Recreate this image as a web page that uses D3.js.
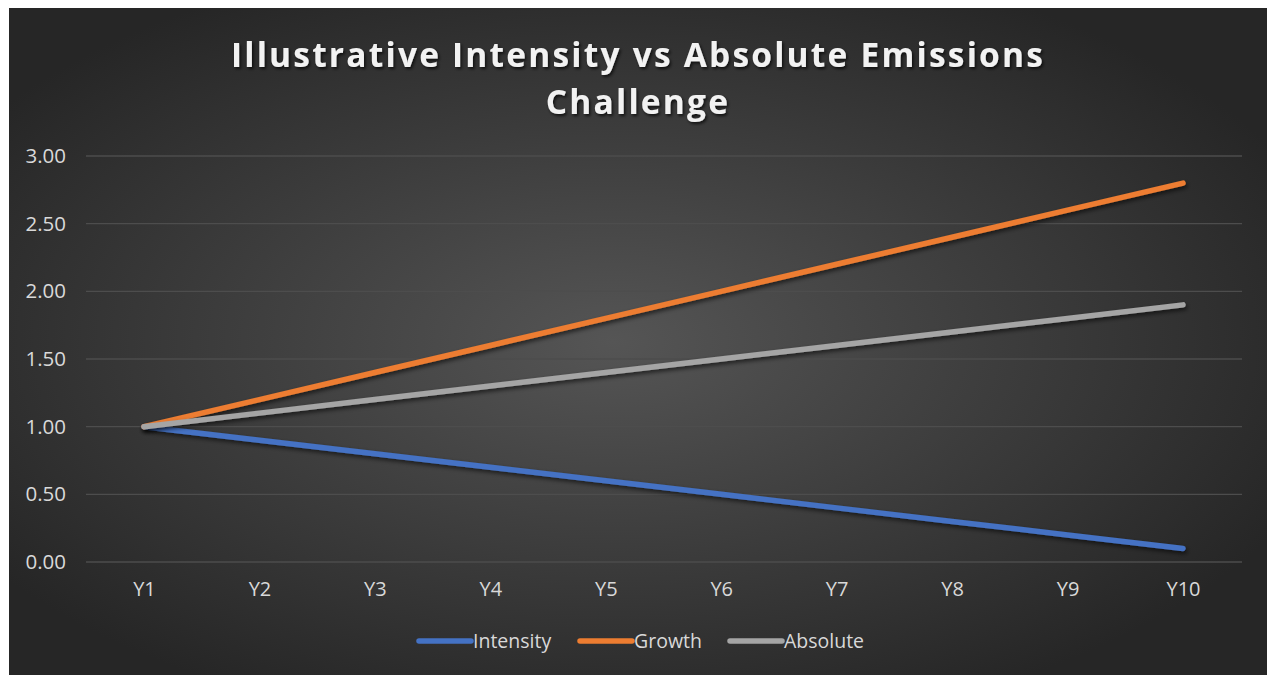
<!DOCTYPE html>
<html><head><meta charset="utf-8">
<script src="https://cdn.jsdelivr.net/npm/d3@7"></script>
<style>html,body{margin:0;padding:0;background:#fff;}svg{display:block;}</style>
</head><body>
<svg id="c" width="1267" height="675"></svg>
<script>
const categories = ["Y1","Y2","Y3","Y4","Y5","Y6","Y7","Y8","Y9","Y10"];
const intensity = [1.0,0.9,0.8,0.7,0.6,0.5,0.4,0.3,0.2,0.1];
const growth = [1.0,1.2,1.4,1.6,1.8,2.0,2.2,2.4,2.6,2.8];
const absolute = [1.0,1.1,1.2,1.3,1.4,1.5,1.6,1.7,1.8,1.9];
const yTicks = [0,0.5,1,1.5,2,2.5,3];
const seriesNames = ["Intensity","Growth","Absolute"];
const title = ["Illustrative Intensity vs Absolute Emissions","Challenge"];

const colors = ["#4472C4","#ED7D31","#A5A5A5"];
const series = [intensity, growth, absolute];
const svg = d3.select("#c");
const defs = svg.append("defs");
const rg = defs.append("radialGradient").attr("id","bg").attr("cx","48%").attr("cy","50%").attr("r","60%");
rg.append("stop").attr("offset","0%").attr("stop-color","#555555");
rg.append("stop").attr("offset","100%").attr("stop-color","#262626");
const f = defs.append("filter").attr("id","sh").attr("x","-10%").attr("y","-10%").attr("width","120%").attr("height","130%");
f.append("feDropShadow").attr("dx",1.5).attr("dy",2.5).attr("stdDeviation",2).attr("flood-color","#000").attr("flood-opacity",0.6);
const ft = defs.append("filter").attr("id","tsh").attr("x","-10%").attr("y","-20%").attr("width","120%").attr("height","150%");
ft.append("feDropShadow").attr("dx",1.5).attr("dy",2).attr("stdDeviation",1.5).attr("flood-color","#000").attr("flood-opacity",0.7);

svg.append("rect").attr("x",9).attr("y",8).attr("width",1258).attr("height",667).attr("fill","url(#bg)");

const x = d3.scalePoint().domain(categories).range([144,1183]);
const y = d3.scaleLinear().domain([0,3]).range([562,156]);

const font = "'Open Sans','Noto Sans',sans-serif";
// gridlines
svg.append("g").selectAll("line").data(yTicks).join("line")
  .attr("x1",86).attr("x2",1242).attr("y1",d=>y(d)).attr("y2",d=>y(d))
  .attr("stroke","#4d4d4d").attr("stroke-width",1.3);

// y axis
const ya = svg.append("g").attr("transform","translate(66,0)")
  .call(d3.axisLeft(y).tickValues(yTicks).tickFormat(d3.format(".2f")).tickSize(0).tickPadding(0));
ya.select(".domain").remove();
ya.selectAll("text").attr("fill","#d9d9d9").style("font-family",font).style("font-size","20.5px");

// x axis
const xa = svg.append("g").attr("transform","translate(0,582)")
  .call(d3.axisBottom(x).tickSize(0).tickPadding(0));
xa.select(".domain").remove();
xa.selectAll("text").attr("fill","#d9d9d9").style("font-family",font).style("font-size","20px");

// lines
const line = d3.line().x((d,i)=>x(categories[i])).y(d=>y(d));
svg.append("g").selectAll("path").data(series).join("path")
  .attr("d",line).attr("fill","none").attr("stroke",(d,i)=>colors[i])
  .attr("stroke-width",5.5).attr("stroke-linecap","round").attr("stroke-linejoin","round")
  .attr("filter","url(#sh)");

// title
svg.append("g").selectAll("text").data(title).join("text")
  .attr("x",638).attr("y",(d,i)=>67+i*47).attr("text-anchor","middle")
  .attr("fill","#f2f2f2").style("font-family",font).style("font-size","33.5px").style("font-weight","bold")
  .style("letter-spacing","2.2px").attr("filter","url(#tsh)").text(d=>d);

// legend
const legX = [419,580,730];
const lg = svg.append("g").selectAll("g").data(seriesNames).join("g")
  .attr("transform",(d,i)=>`translate(${legX[i]},641)`);
lg.append("line").attr("x1",0).attr("x2",52).attr("y1",0).attr("y2",0)
  .attr("stroke",(d,i)=>colors[i]).attr("stroke-width",5.5).attr("stroke-linecap","round");
lg.append("text").attr("x",54).attr("y",7).attr("fill","#d9d9d9")
  .style("font-family",font).style("font-size","19.5px").text(d=>d);
</script>
</body></html>
